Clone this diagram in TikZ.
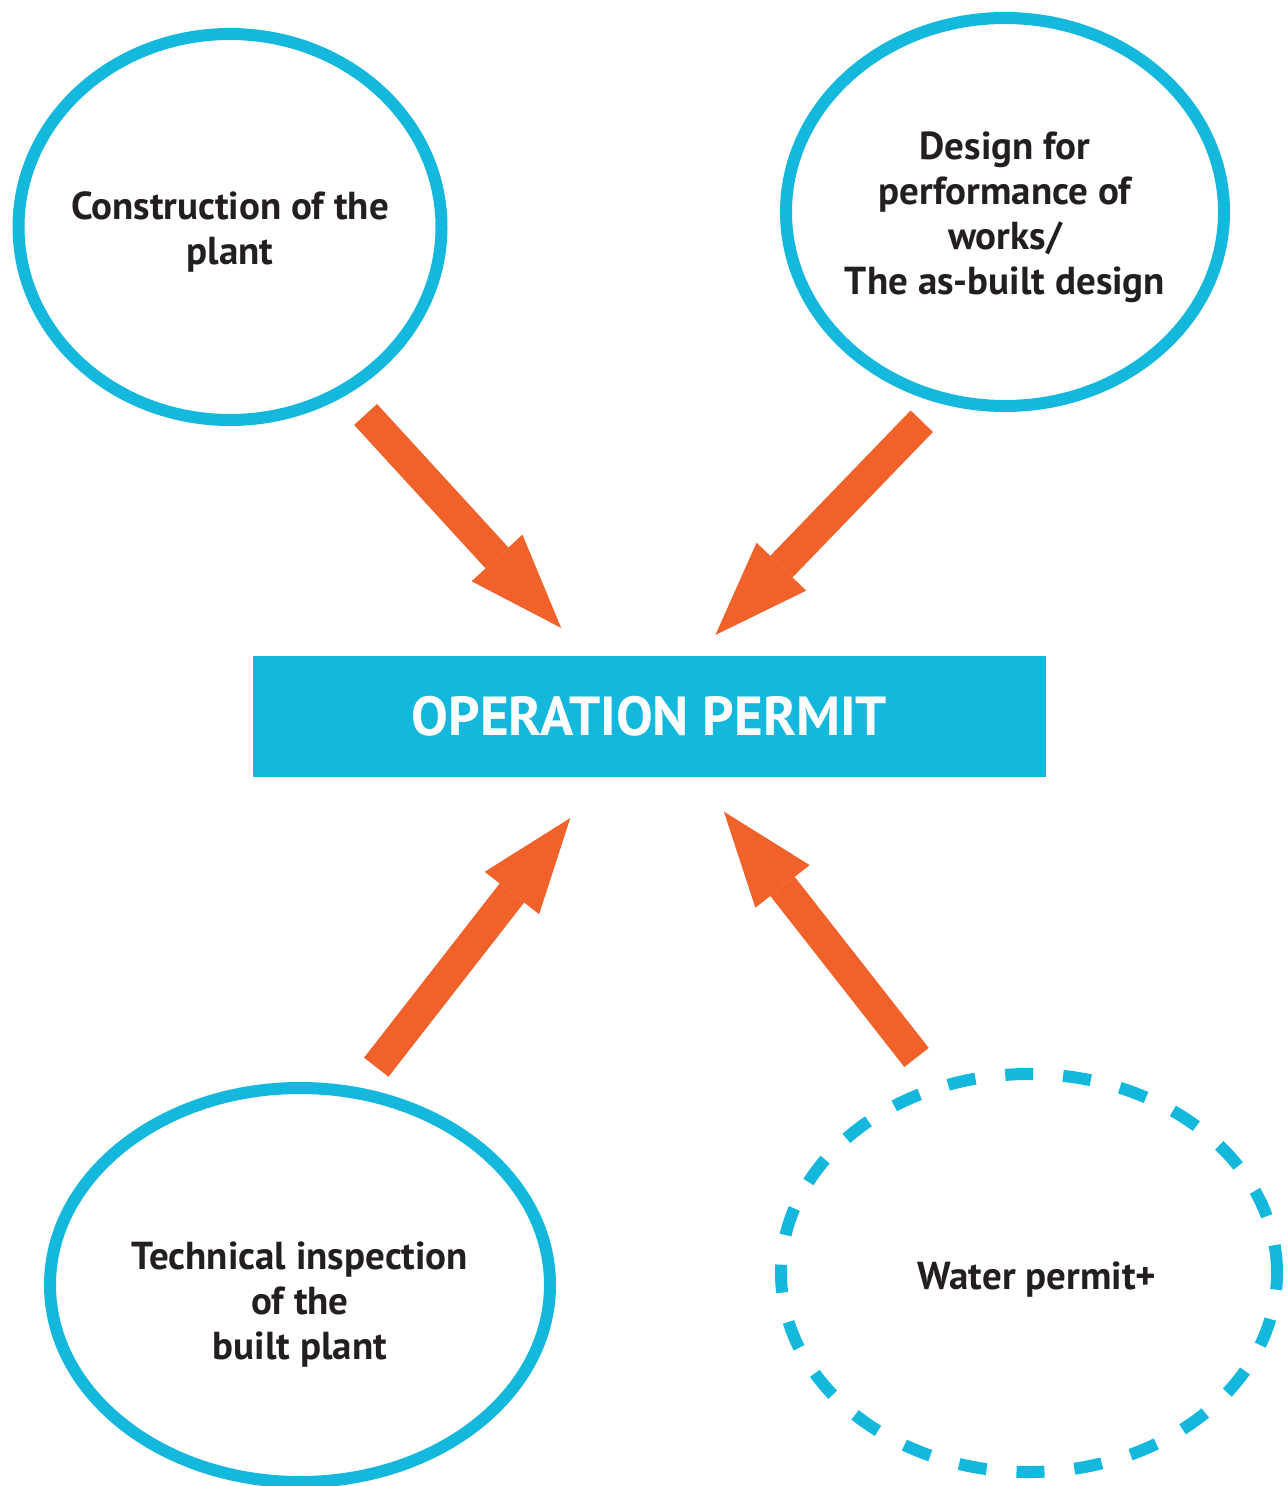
\documentclass[tikz,border=0pt]{standalone}
\usepackage{fontspec}
\setmainfont{PT Sans}
\usepackage{xcolor}
\usepackage{tikz}
\usetikzlibrary{arrows.meta,shapes.geometric}

\definecolor{permitblue}{RGB}{19,184,220}
\definecolor{feedorange}{RGB}{241,98,42}
\definecolor{inkgray}{RGB}{35,31,32}

\begin{document}
\begin{tikzpicture}[
  x=0.5pt, y=-0.5pt,
  >={Triangle[width=34.5pt, length=47.5pt, line width=0pt]},
  src/.style={draw=permitblue, ellipse, line width=6pt, inner sep=0pt},
  srcD/.style={src, dash pattern=on 14pt off 15pt},
  txt/.style={align=center, text=inkgray,
              font=\bfseries\fontsize{19.5}{22.5}\selectfont},
  permitbox/.style={rectangle, fill=permitblue, outer sep=0pt,
                    minimum width=396.5pt, minimum height=60.5pt,
                    text=white, font=\bfseries\fontsize{27.5}{30}\selectfont},
  feed/.style={->, color=feedorange, line width=15.5pt}
]
\useasboundingbox (0,0) rectangle (1288,1486);

%% ---- nodes ----
\node[src, minimum width=211.5pt, minimum height=193pt,
      label={[txt, yshift=-2.5pt]center:{Construction of the\\plant}}]
  (constr) at (230,227) {};
\node[src, minimum width=219pt, minimum height=194pt,
      label={[txt, yshift=-2.5pt]center:{Design for\\performance of\\works/\\The as-built design}}]
  (design) at (1005,212) {};
\node[permitbox] (permit) at (649.5,716.5) {\raisebox{-2.5pt}{OPERATION PERMIT}};
\node[src, minimum width=250pt, minimum height=197pt,
      label={[txt, yshift=-10pt]center:{Technical inspection\\of the\\built plant}}]
  (inspect) at (300,1285) {};
\node[srcD, minimum width=248pt, minimum height=199pt,
      label={[txt, xshift=4pt, yshift=-3.5pt]center:{Water permit+}}]
  (water) at (1029,1273) {};

%% ---- feeding arrows into the permit ----
\draw[feed, shorten <=13.5pt, shorten >=19pt] (constr.-55.2) -- (permit.136.6);
\draw[feed, shorten <=12.5pt, shorten >=14.6pt] (design.-109) -- (permit.53.2);
\draw[feed, shorten <=13pt, shorten >=26pt] (inspect.73.4) -- (permit.-128.1);
\draw[feed, shorten <=15.75pt, shorten >=22pt] (water.116.4) -- (permit.-52.6);

\end{tikzpicture}
\end{document}
